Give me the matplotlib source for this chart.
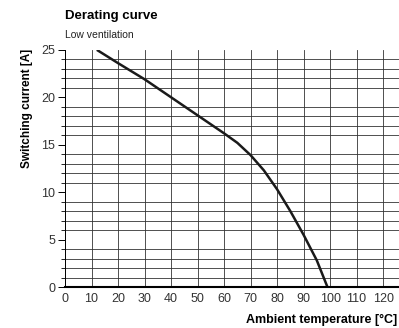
import matplotlib
matplotlib.use("Agg")
import matplotlib.pyplot as plt
import numpy as np

# derating curve, low ventilation
temp = [12, 20, 30, 40, 50, 60, 65, 70, 75, 80, 85, 90, 95, 99]
current = [25, 23.6, 21.9, 20.0, 18.1, 16.2, 15.2, 13.9, 12.3, 10.3, 8.0, 5.5, 2.8, 0]

x_ticks = list(range(0, 130, 10))
y_ticks = [0, 5, 10, 15, 20, 25]

plt.rcParams['font.family'] = ['DejaVu Sans Condensed', 'Liberation Sans']
plt.rcParams['font.stretch'] = 'condensed'

fig = plt.figure(figsize=(3.99, 3.28), dpi=100)
ax = fig.add_axes([0.163, 0.125, 0.837, 0.723])

ax.set_xlim(0, 126)
ax.set_ylim(0, 25)
ax.set_xticks(x_ticks)
ax.set_yticks(y_ticks)
ax.set_yticks(np.arange(0, 26, 1), minor=True)

ax.grid(True, which='major', axis='x', color='#333333', lw=0.6)
ax.grid(True, which='minor', axis='y', color='#333333', lw=0.6)
ax.set_axisbelow(True)

ax.plot(temp, current, color='#1a1a1a', lw=1.8, solid_capstyle='butt')

for s in ['top', 'right']:
    ax.spines[s].set_visible(False)
ax.spines['left'].set_linewidth(0.7)
ax.spines['bottom'].set_linewidth(1.5)

ax.tick_params(axis='x', length=0, pad=4, labelsize=9, labelcolor='#333333')
ax.tick_params(axis='y', which='major', length=5, width=0.7, pad=2, labelsize=9, labelcolor='#333333')
ax.tick_params(axis='y', which='minor', length=3, width=0.6)

fig.text(0.163, 0.952, "Derating curve", fontsize=9.5, fontweight='bold', va='center', ha='left')
fig.text(0.163, 0.893, "Low ventilation", fontsize=7.5, va='center', ha='left', color='#222222')
fig.text(0.068, 0.668, "Switching current [A]", fontsize=8.5, fontweight='bold',
         rotation=90, va='center', ha='center')
fig.text(0.995, 0.025, "Ambient temperature [°C]", fontsize=9, fontweight='bold',
         va='center', ha='right')

plt.savefig("out.png", dpi=100)
plt.close()
